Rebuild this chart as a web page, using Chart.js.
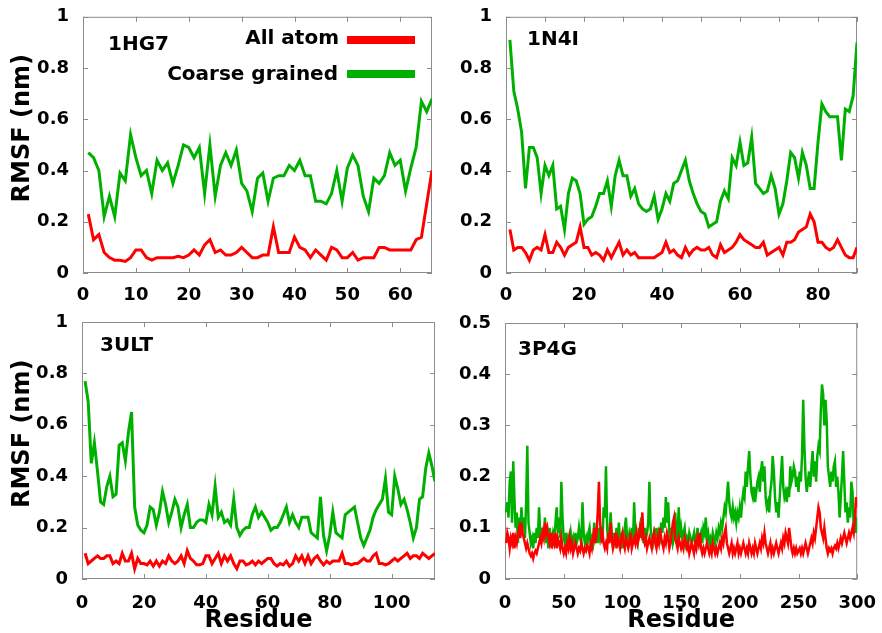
<!DOCTYPE html>
<html>
<head>
<meta charset="utf-8">
<script src="https://cdn.jsdelivr.net/npm/chart.js@4.4.1/dist/chart.umd.min.js"></script>
<style>
  html, body { margin: 0; padding: 0; background: #fff; }
  body { width: 882px; height: 633px; position: relative; overflow: hidden;
         font-family: "DejaVu Sans", sans-serif; font-weight: bold; color: #000; }
  .cell { position: absolute; }
  .tag { position: absolute; font-size: 20px; line-height: 20px; white-space: nowrap; }
  .key { position: absolute; font-size: 20px; line-height: 20px; width: 200px; text-align: right; white-space: nowrap; }
  .swatch { position: absolute; width: 68px; height: 8px; }
</style>
</head>
<body>
<canvas id="c1HG7" class="cell" width="441" height="300" style="left:0;top:0"></canvas>
<canvas id="c1N4I" class="cell" width="441" height="300" style="left:441px;top:0"></canvas>
<canvas id="c3ULT" class="cell" width="441" height="333" style="left:0;top:300px"></canvas>
<canvas id="c3P4G" class="cell" width="441" height="333" style="left:441px;top:300px"></canvas>

<div class="tag" style="left:108px;top:33px">1HG7</div>
<div class="tag" style="left:527px;top:28px">1N4I</div>
<div class="tag" style="left:100px;top:334px">3ULT</div>
<div class="tag" style="left:518px;top:338px">3P4G</div>

<div class="key" style="left:139px;top:27px">All atom</div>
<div class="swatch" style="left:347px;top:36px;background:#ff0000"></div>
<div class="key" style="left:138px;top:63px">Coarse grained</div>
<div class="swatch" style="left:347px;top:70px;background:#00b000"></div>

<script>
// --- DATI ---
const seriesNames = ['All atom', 'Coarse grained'];
const seriesColors = ['#ff0000', '#00b000'];

// 1HG7
const hg7Red = [0.23,0.13,0.15,0.08,0.06,0.05,0.05,0.045,0.06,0.09,
  0.09,0.06,0.05,0.06,0.06,0.06,0.06,0.065,0.06,0.07,
  0.09,0.07,0.11,0.13,0.08,0.09,0.07,0.07,0.08,0.10,
  0.08,0.06,0.06,0.07,0.07,0.18,0.08,0.08,0.08,0.14,
  0.10,0.09,0.06,0.09,0.07,0.05,0.10,0.09,0.06,0.06,
  0.08,0.05,0.06,0.06,0.06,0.10,0.10,0.09,0.09,0.09,
  0.09,0.09,0.13,0.14,0.27,0.40];
const hg7Green = [0.47,0.45,0.40,0.22,0.30,0.22,0.39,0.36,0.54,0.45,
  0.38,0.40,0.31,0.44,0.40,0.43,0.35,0.42,0.50,0.49,
  0.45,0.49,0.31,0.50,0.30,0.42,0.47,0.42,0.48,0.35,
  0.32,0.24,0.37,0.39,0.28,0.37,0.38,0.38,0.42,0.40,
  0.44,0.38,0.38,0.28,0.28,0.27,0.31,0.40,0.28,0.41,
  0.46,0.42,0.30,0.24,0.37,0.35,0.38,0.47,0.42,0.44,
  0.32,0.41,0.49,0.67,0.63,0.68];

// 1N4I
const n4iRed = [0.17,0.09,0.10,0.10,0.08,0.05,0.09,0.10,0.09,0.15,
  0.08,0.08,0.12,0.10,0.07,0.10,0.11,0.12,0.18,0.10,
  0.10,0.07,0.08,0.07,0.05,0.09,0.06,0.09,0.12,0.07,
  0.09,0.07,0.08,0.06,0.06,0.06,0.06,0.06,0.07,0.08,
  0.12,0.08,0.09,0.07,0.06,0.10,0.07,0.09,0.10,0.09,
  0.09,0.10,0.07,0.06,0.11,0.08,0.09,0.10,0.12,0.15,
  0.13,0.12,0.11,0.10,0.10,0.12,0.07,0.08,0.09,0.10,
  0.07,0.12,0.12,0.13,0.16,0.17,0.18,0.23,0.20,0.12,
  0.12,0.10,0.09,0.10,0.13,0.10,0.07,0.06,0.06,0.10];
const n4iGreen = [0.91,0.71,0.64,0.55,0.33,0.49,0.49,0.45,0.31,0.42,
  0.38,0.42,0.25,0.26,0.17,0.31,0.37,0.36,0.31,0.19,
  0.21,0.22,0.26,0.31,0.31,0.36,0.26,0.38,0.44,0.38,
  0.38,0.30,0.33,0.27,0.25,0.24,0.25,0.30,0.21,0.25,
  0.31,0.28,0.35,0.36,0.40,0.44,0.36,0.31,0.27,0.24,
  0.23,0.18,0.19,0.20,0.28,0.32,0.29,0.45,0.42,0.51,
  0.42,0.43,0.53,0.35,0.33,0.31,0.32,0.38,0.33,0.23,
  0.27,0.36,0.47,0.45,0.37,0.47,0.42,0.33,0.33,0.51,
  0.66,0.63,0.61,0.61,0.61,0.44,0.64,0.63,0.69,0.90];

// 3ULT
const ultRed = [0.10,0.06,0.07,0.08,0.09,0.08,0.08,0.09,0.09,0.06,
  0.07,0.06,0.10,0.07,0.07,0.10,0.04,0.08,0.06,0.06,
  0.055,0.07,0.05,0.07,0.05,0.07,0.06,0.09,0.07,0.06,
  0.07,0.09,0.06,0.11,0.08,0.07,0.055,0.055,0.06,0.09,
  0.09,0.06,0.08,0.10,0.06,0.09,0.07,0.09,0.06,0.04,
  0.07,0.07,0.055,0.06,0.07,0.055,0.07,0.06,0.07,0.08,
  0.08,0.06,0.05,0.06,0.055,0.07,0.05,0.06,0.09,0.07,
  0.09,0.06,0.09,0.06,0.08,0.09,0.07,0.055,0.07,0.06,
  0.07,0.07,0.07,0.10,0.06,0.06,0.055,0.06,0.06,0.07,
  0.08,0.07,0.07,0.09,0.10,0.06,0.06,0.055,0.06,0.07,
  0.08,0.07,0.08,0.09,0.10,0.08,0.09,0.09,0.08,0.10,
  0.09,0.08,0.09,0.10];
const ultGreen = [0.77,0.69,0.45,0.53,0.42,0.30,0.29,0.36,0.40,0.32,
  0.33,0.52,0.53,0.46,0.57,0.65,0.28,0.21,0.19,0.18,
  0.21,0.28,0.27,0.21,0.26,0.34,0.29,0.22,0.26,0.31,
  0.28,0.20,0.25,0.29,0.20,0.20,0.22,0.23,0.23,0.22,
  0.29,0.25,0.36,0.24,0.26,0.22,0.23,0.21,0.31,0.20,
  0.17,0.19,0.20,0.20,0.25,0.28,0.24,0.26,0.24,0.22,
  0.19,0.20,0.20,0.22,0.25,0.28,0.22,0.25,0.22,0.20,
  0.24,0.24,0.24,0.18,0.17,0.16,0.32,0.17,0.11,0.17,
  0.26,0.18,0.17,0.16,0.25,0.26,0.27,0.28,0.22,0.16,
  0.13,0.16,0.19,0.24,0.27,0.29,0.31,0.39,0.26,0.25,
  0.40,0.35,0.29,0.31,0.27,0.22,0.16,0.20,0.31,0.32,
  0.43,0.49,0.44,0.38];

// 3P4G
const p4gRed = [0.07,0.09,0.08,0.06,0.08,0.07,0.09,0.06,0.08,0.07,
  0.09,0.10,0.08,0.11,0.09,0.08,0.07,0.06,0.07,0.06,
  0.05,0.045,0.05,0.04,0.05,0.055,0.05,0.06,0.07,0.08,
  0.07,0.09,0.08,0.11,0.09,0.10,0.08,0.07,0.09,0.06,
  0.08,0.07,0.09,0.06,0.08,0.07,0.06,0.08,0.06,0.05,
  0.06,0.05,0.07,0.06,0.08,0.06,0.07,0.05,0.06,0.07,
  0.06,0.05,0.06,0.055,0.07,0.06,0.05,0.06,0.055,0.065,
  0.06,0.05,0.07,0.06,0.08,0.10,0.07,0.09,0.13,0.19,
  0.11,0.08,0.09,0.07,0.06,0.07,0.06,0.09,0.07,0.11,
  0.08,0.06,0.07,0.09,0.06,0.08,0.07,0.06,0.08,0.09,
  0.07,0.06,0.08,0.07,0.06,0.07,0.09,0.06,0.07,0.08,
  0.07,0.09,0.07,0.08,0.10,0.09,0.13,0.08,0.07,0.08,
  0.06,0.07,0.08,0.07,0.06,0.08,0.09,0.07,0.06,0.08,
  0.07,0.10,0.08,0.07,0.06,0.08,0.07,0.09,0.08,0.06,
  0.07,0.09,0.11,0.12,0.08,0.07,0.06,0.08,0.07,0.06,
  0.07,0.06,0.08,0.07,0.06,0.07,0.05,0.06,0.07,0.06,
  0.05,0.07,0.06,0.08,0.07,0.09,0.06,0.05,0.06,0.05,
  0.06,0.07,0.06,0.05,0.06,0.05,0.07,0.06,0.05,0.06,
  0.05,0.06,0.07,0.06,0.08,0.07,0.09,0.10,0.07,0.06,
  0.05,0.06,0.07,0.05,0.06,0.05,0.06,0.07,0.05,0.06,
  0.05,0.06,0.07,0.06,0.05,0.06,0.05,0.07,0.06,0.05,
  0.06,0.05,0.07,0.06,0.05,0.06,0.07,0.06,0.08,0.07,
  0.09,0.07,0.06,0.05,0.06,0.07,0.05,0.06,0.05,0.06,
  0.07,0.06,0.05,0.06,0.07,0.06,0.08,0.07,0.09,0.08,
  0.07,0.10,0.08,0.06,0.05,0.06,0.05,0.06,0.05,0.055,
  0.06,0.05,0.06,0.05,0.06,0.07,0.06,0.05,0.06,0.07,
  0.08,0.07,0.09,0.08,0.10,0.12,0.14,0.13,0.10,0.09,
  0.08,0.10,0.08,0.06,0.05,0.06,0.055,0.06,0.05,0.06,
  0.065,0.06,0.07,0.06,0.07,0.08,0.07,0.08,0.09,0.08,
  0.07,0.08,0.09,0.08,0.09,0.10,0.09,0.12,0.16,0.14];
const p4gGreen = [0.13,0.15,0.12,0.19,0.21,0.11,0.23,0.16,0.10,0.13,
  0.07,0.12,0.09,0.14,0.10,0.12,0.08,0.15,0.26,0.11,
  0.09,0.07,0.08,0.06,0.09,0.07,0.10,0.08,0.14,0.09,
  0.07,0.10,0.08,0.12,0.07,0.09,0.06,0.10,0.08,0.07,
  0.09,0.08,0.11,0.14,0.09,0.12,0.08,0.19,0.12,0.08,
  0.07,0.09,0.06,0.08,0.07,0.09,0.07,0.08,0.06,0.09,
  0.07,0.08,0.10,0.08,0.07,0.15,0.09,0.07,0.08,0.06,
  0.09,0.10,0.07,0.08,0.07,0.11,0.08,0.09,0.07,0.10,
  0.08,0.09,0.07,0.14,0.12,0.22,0.10,0.07,0.09,0.13,
  0.08,0.06,0.09,0.07,0.10,0.08,0.11,0.07,0.09,0.06,
  0.08,0.10,0.12,0.08,0.07,0.09,0.08,0.10,0.07,0.15,
  0.09,0.08,0.07,0.10,0.08,0.12,0.09,0.07,0.10,0.08,
  0.09,0.11,0.19,0.10,0.08,0.07,0.09,0.08,0.10,0.07,
  0.09,0.08,0.11,0.09,0.12,0.10,0.16,0.11,0.15,0.09,
  0.08,0.10,0.07,0.08,0.13,0.07,0.09,0.14,0.08,0.10,
  0.08,0.09,0.10,0.07,0.08,0.07,0.09,0.08,0.07,0.08,
  0.09,0.07,0.08,0.10,0.07,0.08,0.09,0.07,0.10,0.09,
  0.12,0.08,0.09,0.07,0.08,0.07,0.09,0.08,0.07,0.09,
  0.08,0.10,0.09,0.11,0.10,0.12,0.14,0.13,0.16,0.19,
  0.15,0.13,0.12,0.14,0.12,0.13,0.11,0.13,0.12,0.14,
  0.12,0.15,0.17,0.16,0.21,0.18,0.22,0.25,0.20,0.17,
  0.16,0.18,0.15,0.17,0.19,0.20,0.17,0.21,0.23,0.19,
  0.22,0.16,0.14,0.15,0.13,0.17,0.19,0.24,0.21,0.16,
  0.13,0.15,0.12,0.16,0.20,0.24,0.18,0.16,0.17,0.15,
  0.18,0.16,0.22,0.19,0.20,0.22,0.21,0.18,0.20,0.17,
  0.21,0.19,0.24,0.35,0.26,0.20,0.17,0.19,0.21,0.18,
  0.22,0.25,0.20,0.23,0.19,0.24,0.26,0.25,0.33,0.38,
  0.36,0.30,0.35,0.31,0.22,0.20,0.18,0.21,0.19,0.22,
  0.23,0.18,0.20,0.17,0.12,0.16,0.20,0.25,0.19,0.13,
  0.15,0.11,0.14,0.12,0.19,0.17,0.10,0.13,0.09,0.12];

Chart.defaults.font.family = '"DejaVu Sans", sans-serif';
Chart.defaults.font.weight = 'bold';
Chart.defaults.color = '#000';

// bordo grigio e tacche interne, come nell'originale
const framePlugin = {
    id: 'frame',
    beforeDatasetsDraw(chart) {
        const { ctx, chartArea: a, scales: { x, y } } = chart;
        ctx.save();
        ctx.strokeStyle = '#8c8c8c';
        ctx.lineWidth = 1;
        ctx.strokeRect(a.left + 0.5, a.top + 0.5, a.width - 1, a.height - 1);
        ctx.beginPath();
        x.ticks.forEach(t => {
            const px = Math.round(x.getPixelForValue(t.value)) + 0.5;
            ctx.moveTo(px, a.bottom); ctx.lineTo(px, a.bottom - 5);
            ctx.moveTo(px, a.top); ctx.lineTo(px, a.top + 5);
        });
        y.ticks.forEach(t => {
            const py = Math.round(y.getPixelForValue(t.value)) + 0.5;
            ctx.moveTo(a.left, py); ctx.lineTo(a.left + 5, py);
            ctx.moveTo(a.right, py); ctx.lineTo(a.right - 5, py);
        });
        ctx.stroke();
        ctx.restore();
    }
};

function toPoints(arr) {
    return arr.map((v, i) => ({ x: i + 1, y: v }));
}

function makePanel(id, p) {
    const ctx = document.getElementById(id).getContext('2d');
    return new Chart(ctx, {
        type: 'line',
        data: {
            datasets: [
                { label: seriesNames[0], data: toPoints(p.red), borderColor: seriesColors[0],
                  borderWidth: p.lw, pointRadius: 0, tension: 0, fill: false },
                { label: seriesNames[1], data: toPoints(p.green), borderColor: seriesColors[1],
                  borderWidth: p.lw, pointRadius: 0, tension: 0, fill: false }
            ]
        },
        options: {
            responsive: false,
            animation: false,
            devicePixelRatio: 1,
            layout: { padding: { left: 0, right: p.padRight, top: p.padTop, bottom: 0 } },
            plugins: { legend: { display: false }, tooltip: { enabled: false } },
            scales: {
                x: {
                    type: 'linear',
                    min: 0,
                    max: p.xMax,
                    grid: { display: false },
                    border: { display: false },
                    ticks: {
                        stepSize: p.xStep,
                        includeBounds: false,
                        maxRotation: 0,
                        autoSkip: false,
                        padding: p.xPad,
                        font: { size: 18 },
                        callback: v => (v % p.xLabelStep === 0 ? String(v) : '')
                    },
                    title: {
                        display: !!p.xTitle,
                        text: p.xTitle || '',
                        font: { size: 24, lineHeight: 1 },
                        padding: { top: 0, bottom: 0 }
                    },
                    afterFit: s => { s.height = p.xHeight; }
                },
                y: {
                    min: 0,
                    max: p.yMax,
                    grid: { display: false },
                    border: { display: false },
                    ticks: {
                        stepSize: p.yStep,
                        padding: 6,
                        font: { size: 18 },
                        callback: v => String(Math.round(v * 10) / 10)
                    },
                    title: {
                        display: !!p.yTitle,
                        text: p.yTitle || '',
                        font: { size: 24 },
                        padding: { top: 8, bottom: 0 }
                    },
                    afterFit: s => { s.width = p.yWidth; }
                }
            }
        },
        plugins: [framePlugin]
    });
}

document.addEventListener('DOMContentLoaded', () => {
    makePanel('c1HG7', { red: hg7Red, green: hg7Green, lw: 3, xMax: 66, xStep: 10, xLabelStep: 10,
        yMax: 1, yStep: 0.2, yWidth: 83, padRight: 9, padTop: 14, xHeight: 27, xPad: 4,
        yTitle: '    RMSF (nm)' });
    makePanel('c1N4I', { red: n4iRed, green: n4iGreen, lw: 3, xMax: 90, xStep: 10, xLabelStep: 20,
        yMax: 1, yStep: 0.2, yWidth: 65, padRight: 25, padTop: 14, xHeight: 27, xPad: 4 });
    makePanel('c3ULT', { red: ultRed, green: ultGreen, lw: 3, xMax: 114, xStep: 20, xLabelStep: 20,
        yMax: 1, yStep: 0.2, yWidth: 82, padRight: 6, padTop: 22, xHeight: 54, xPad: 6,
        yTitle: '    RMSF (nm)', xTitle: 'Residue' });
    makePanel('c3P4G', { red: p4gRed, green: p4gGreen, lw: 2.5, xMax: 300, xStep: 50, xLabelStep: 50,
        yMax: 0.5, yStep: 0.1, yWidth: 64, padRight: 22, padTop: 23, xHeight: 54, xPad: 6,
        xTitle: 'Residue' });
});
</script>
</body>
</html>
